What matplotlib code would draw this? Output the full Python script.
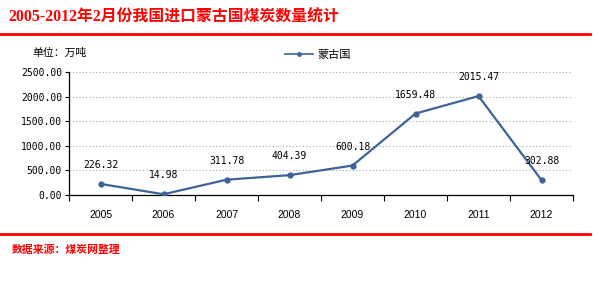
import numpy as np
import matplotlib.pyplot as plt
from matplotlib.lines import Line2D

years = ["2005", "2006", "2007", "2008", "2009", "2010", "2011", "2012"]
mongolia = [226.32, 14.98, 311.78, 404.39, 600.18, 1659.48, 2015.47, 302.88]
yticks = [0, 500, 1000, 1500, 2000, 2500]

red = "#ff0000"
blue = "#3c6496"
cjk = ["Noto Sans CJK SC", "DejaVu Sans"]
mono = ["DejaVu Sans Mono"]

fig = plt.figure(figsize=(6.13, 2.83), dpi=100)
ax = fig.add_axes([69 / 613, 1 - 195 / 283, 504 / 613, 122.7 / 283])

x = np.arange(len(years))
ax.plot(x, mongolia, color=blue, lw=1.6, marker="o", ms=3.5, zorder=3)
for xi, v in zip(x, mongolia):
    ax.annotate(f"{v:.2f}", (xi, v), xytext=(0, 10), textcoords="offset points",
                ha="center", va="bottom", fontsize=7, family=mono, color="black")

ax.set_xlim(-0.5, len(years) - 0.5)
ax.set_ylim(0, 2500)
ax.set_yticks(yticks)
ax.set_yticklabels([f"{t:.2f}" for t in yticks], family=mono, fontsize=7)
ax.tick_params(axis="y", length=3, width=0.8, pad=2)
ax.set_xticks(np.arange(-0.5, len(years), 1.0))
ax.set_xticklabels([])
ax.tick_params(axis="x", which="major", length=4, width=0.8, direction="out")
ax.set_xticks(x, minor=True)
ax.set_xticklabels(years, minor=True, family="Liberation Sans", fontsize=7.5)
ax.tick_params(axis="x", which="minor", length=0, pad=11)

ax.grid(axis="y", color="#a8a8a8", ls=(0, (1, 2)), lw=0.8)
ax.spines["top"].set_visible(False)
ax.spines["right"].set_visible(False)
for s in ("left", "bottom"):
    ax.spines[s].set_linewidth(0.9)

# legend
h = Line2D([], [], color=blue, lw=1.2, marker="o", ms=2.5)
fig.legend([h], ["蒙古国"], loc="center", bbox_to_anchor=(318 / 613, 1 - 55 / 283),
           frameon=False, prop={"family": cjk, "size": 8}, handlelength=2.5,
           handletextpad=0.4)

# title, unit, source and red rules
fig.text(8 / 613, 1 - 17 / 283, "2005-2012年2月份我国进口蒙古国煤炭数量统计",
         color=red, fontsize=11.4, fontweight="bold", va="center",
         family=["Liberation Serif", "Noto Sans CJK SC"])
fig.text(32 / 613, 1 - 53 / 283, "单位：万吨", fontsize=7.8, va="center", family=cjk)
fig.text(12 / 613, 1 - 250 / 283, "数据来源：煤炭网整理", color=red, fontsize=7.8,
         fontweight="bold", va="center", family=cjk)
fig.add_artist(Line2D([0, 590 / 613], [1 - 33.5 / 283] * 2, color=red, lw=2))
fig.add_artist(Line2D([0, 590 / 613], [1 - 234 / 283] * 2, color=red, lw=2))

fig.savefig("out.png", dpi=100)
